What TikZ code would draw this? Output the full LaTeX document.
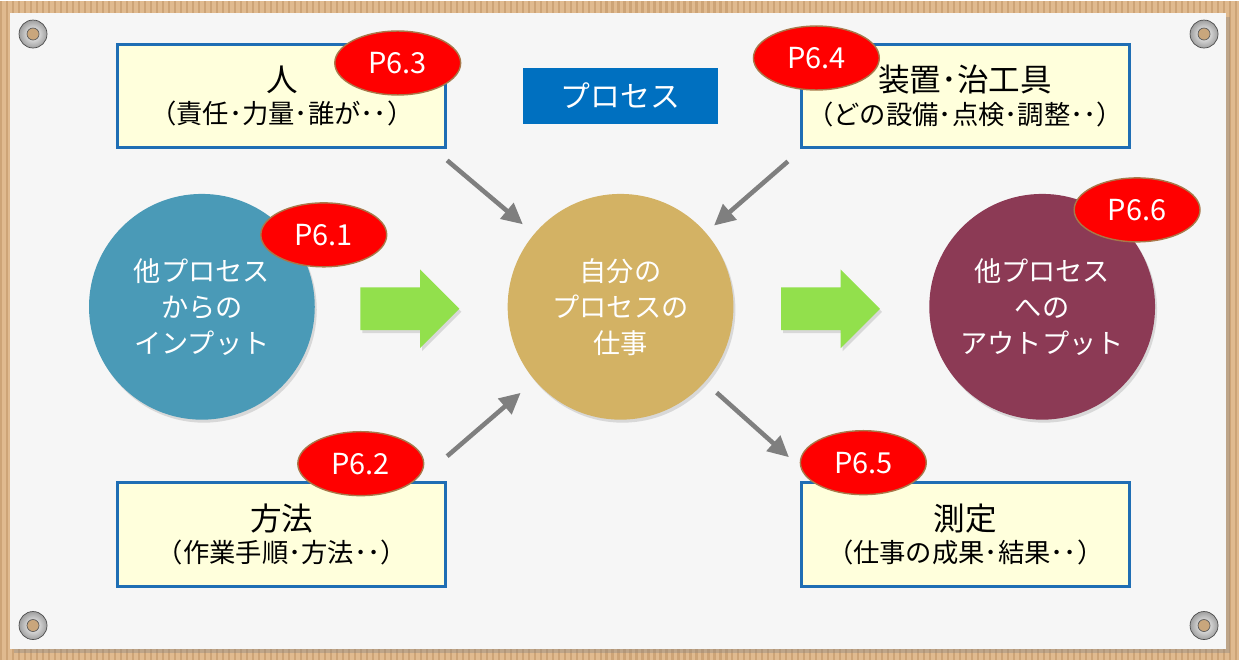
\documentclass[tikz,border=0pt]{standalone}
\usepackage{xcolor}
\usepackage{fontspec}
\setmainfont{Noto Sans CJK JP}
\usetikzlibrary{shapes, arrows.meta, positioning, shadows}

\definecolor{corkbrown}{HTML}{E0BA8F}
\definecolor{corkline}{HTML}{CDA477}
\definecolor{paperwhite}{HTML}{F6F6F6}
\definecolor{boxblue}{HTML}{1F6EB4}
\definecolor{boxfill}{HTML}{FFFFDC}
\definecolor{titleblue}{HTML}{0070C0}
\definecolor{inteal}{HTML}{4A9AB7}
\definecolor{workgold}{HTML}{D3B264}
\definecolor{outwine}{HTML}{8C3A55}
\definecolor{badgered}{HTML}{FF0000}
\definecolor{badgerim}{HTML}{A8784A}
\definecolor{flowgreen}{HTML}{92E04C}
\definecolor{linkgray}{HTML}{7F7F7F}
\definecolor{holetan}{HTML}{C9A67C}

\begin{document}
\begin{tikzpicture}[x=0.02cm, y=-0.02cm,
    infobox/.style={draw=boxblue, line width=1.7pt, fill=boxfill, minimum width=6.56cm, minimum height=2.08cm, align=center, inner sep=0pt},
    stepcircle/.style={circle, minimum size=4.52cm, inner sep=0pt, text=white, align=center, font=\fontsize{15.5}{20.5}\selectfont, drop shadow={opacity=0.25, shadow xshift=0.04cm, shadow yshift=-0.06cm}},
    badge/.style={ellipse, draw=badgerim, line width=0.8pt, fill=badgered, minimum width=2.52cm, minimum height=1.28cm, inner sep=0pt, text=white, font=\fontsize{16.5}{19}\selectfont},
    flowarrow/.style={single arrow, fill=flowgreen, minimum height=1.98cm, minimum width=1.56cm, single arrow head extend=0.36cm, inner xsep=0pt, inner ysep=0.42cm, drop shadow={opacity=0.25, shadow xshift=0.04cm, shadow yshift=-0.06cm}},
    link/.style={linkgray, line width=2.6pt, -{Triangle[length=0.42cm, width=0.4cm]}}]

    % Board and paper
    \fill[corkbrown] (0,0) rectangle (1239,660);
    \foreach \x in {0,6,...,1236}
        \draw[corkline, line width=1.2pt] (\x,0) -- (\x,660);
    \fill[paperwhite, drop shadow={opacity=0.35, shadow xshift=0.08cm, shadow yshift=-0.08cm}] (9,12) rectangle (1226,648);

    % Screws
    \foreach \sx/\sy in {32/33, 1204/33, 32/625, 1204/625} {
        \shade[inner color=white, outer color=gray!75] (\sx,\sy) circle (0.28cm);
        \draw[gray!60!black, line width=0.4pt] (\sx,\sy) circle (0.28cm);
        \fill[holetan] (\sx,\sy) circle (0.12cm);
        \draw[gray!70!black, line width=0.4pt] (\sx,\sy) circle (0.12cm);
    }

    % Nodes
    \node[fill=titleblue, minimum width=3.92cm, minimum height=1.12cm, text=white, font=\fontsize{17}{20}\selectfont] (title) at (620,95) {プロセス};

    \node[infobox] (person) at (281,95) {{\fontsize{18}{21}\selectfont 人}\\[3pt]{\fontsize{15}{18}\selectfont （責任･力量･誰が･･）}};
    \node[infobox] (equip) at (965,95) {{\fontsize{18}{21}\selectfont 装置･治工具}\\[3pt]{\fontsize{15}{18}\selectfont （どの設備･点検･調整･･）}};
    \node[infobox] (method) at (281,534) {{\fontsize{18}{21}\selectfont 方法}\\[3pt]{\fontsize{15}{18}\selectfont （作業手順･方法･･）}};
    \node[infobox] (measure) at (965,534) {{\fontsize{18}{21}\selectfont 測定}\\[3pt]{\fontsize{15}{18}\selectfont （仕事の成果･結果･･）}};

    \node[stepcircle, fill=inteal] (input) at (201,306) {他プロセス\\からの\\インプット};
    \node[stepcircle, fill=workgold] (work) at (620,306) {自分の\\プロセスの\\仕事};
    \node[stepcircle, fill=outwine] (output) at (1042,306) {他プロセス\\への\\アウトプット};

    \node[flowarrow] (inflow) at (398.5,308) {};
    \node[flowarrow] (outflow) at (819.5,308) {};

    % Badges
    \node[badge] (p61) at (323,234) {P6.1};
    \node[badge] (p62) at (360,463) {P6.2};
    \node[badge] (p63) at (397,62) {P6.3};
    \node[badge] (p64) at (816,57) {P6.4};
    \node[badge] (p65) at (863,462) {P6.5};
    \node[badge] (p66) at (1137,209) {P6.6};

    % Interactions
    \draw[link, shorten >=2.56cm] ([yshift=-0.22cm]person.south east) -- (work.center);
    \draw[link, shorten >=2.48cm] ([shift={(-0.24cm,-0.24cm)}]equip.south west) -- (work.center);
    \draw[link, shorten >=2.64cm] ([yshift=0.5cm]method.north east) -- (work.center);
    \draw[link, shorten <=2.58cm] (work.center) -- ([shift={(-0.22cm,0.48cm)}]measure.north west);

\end{tikzpicture}
\end{document}
